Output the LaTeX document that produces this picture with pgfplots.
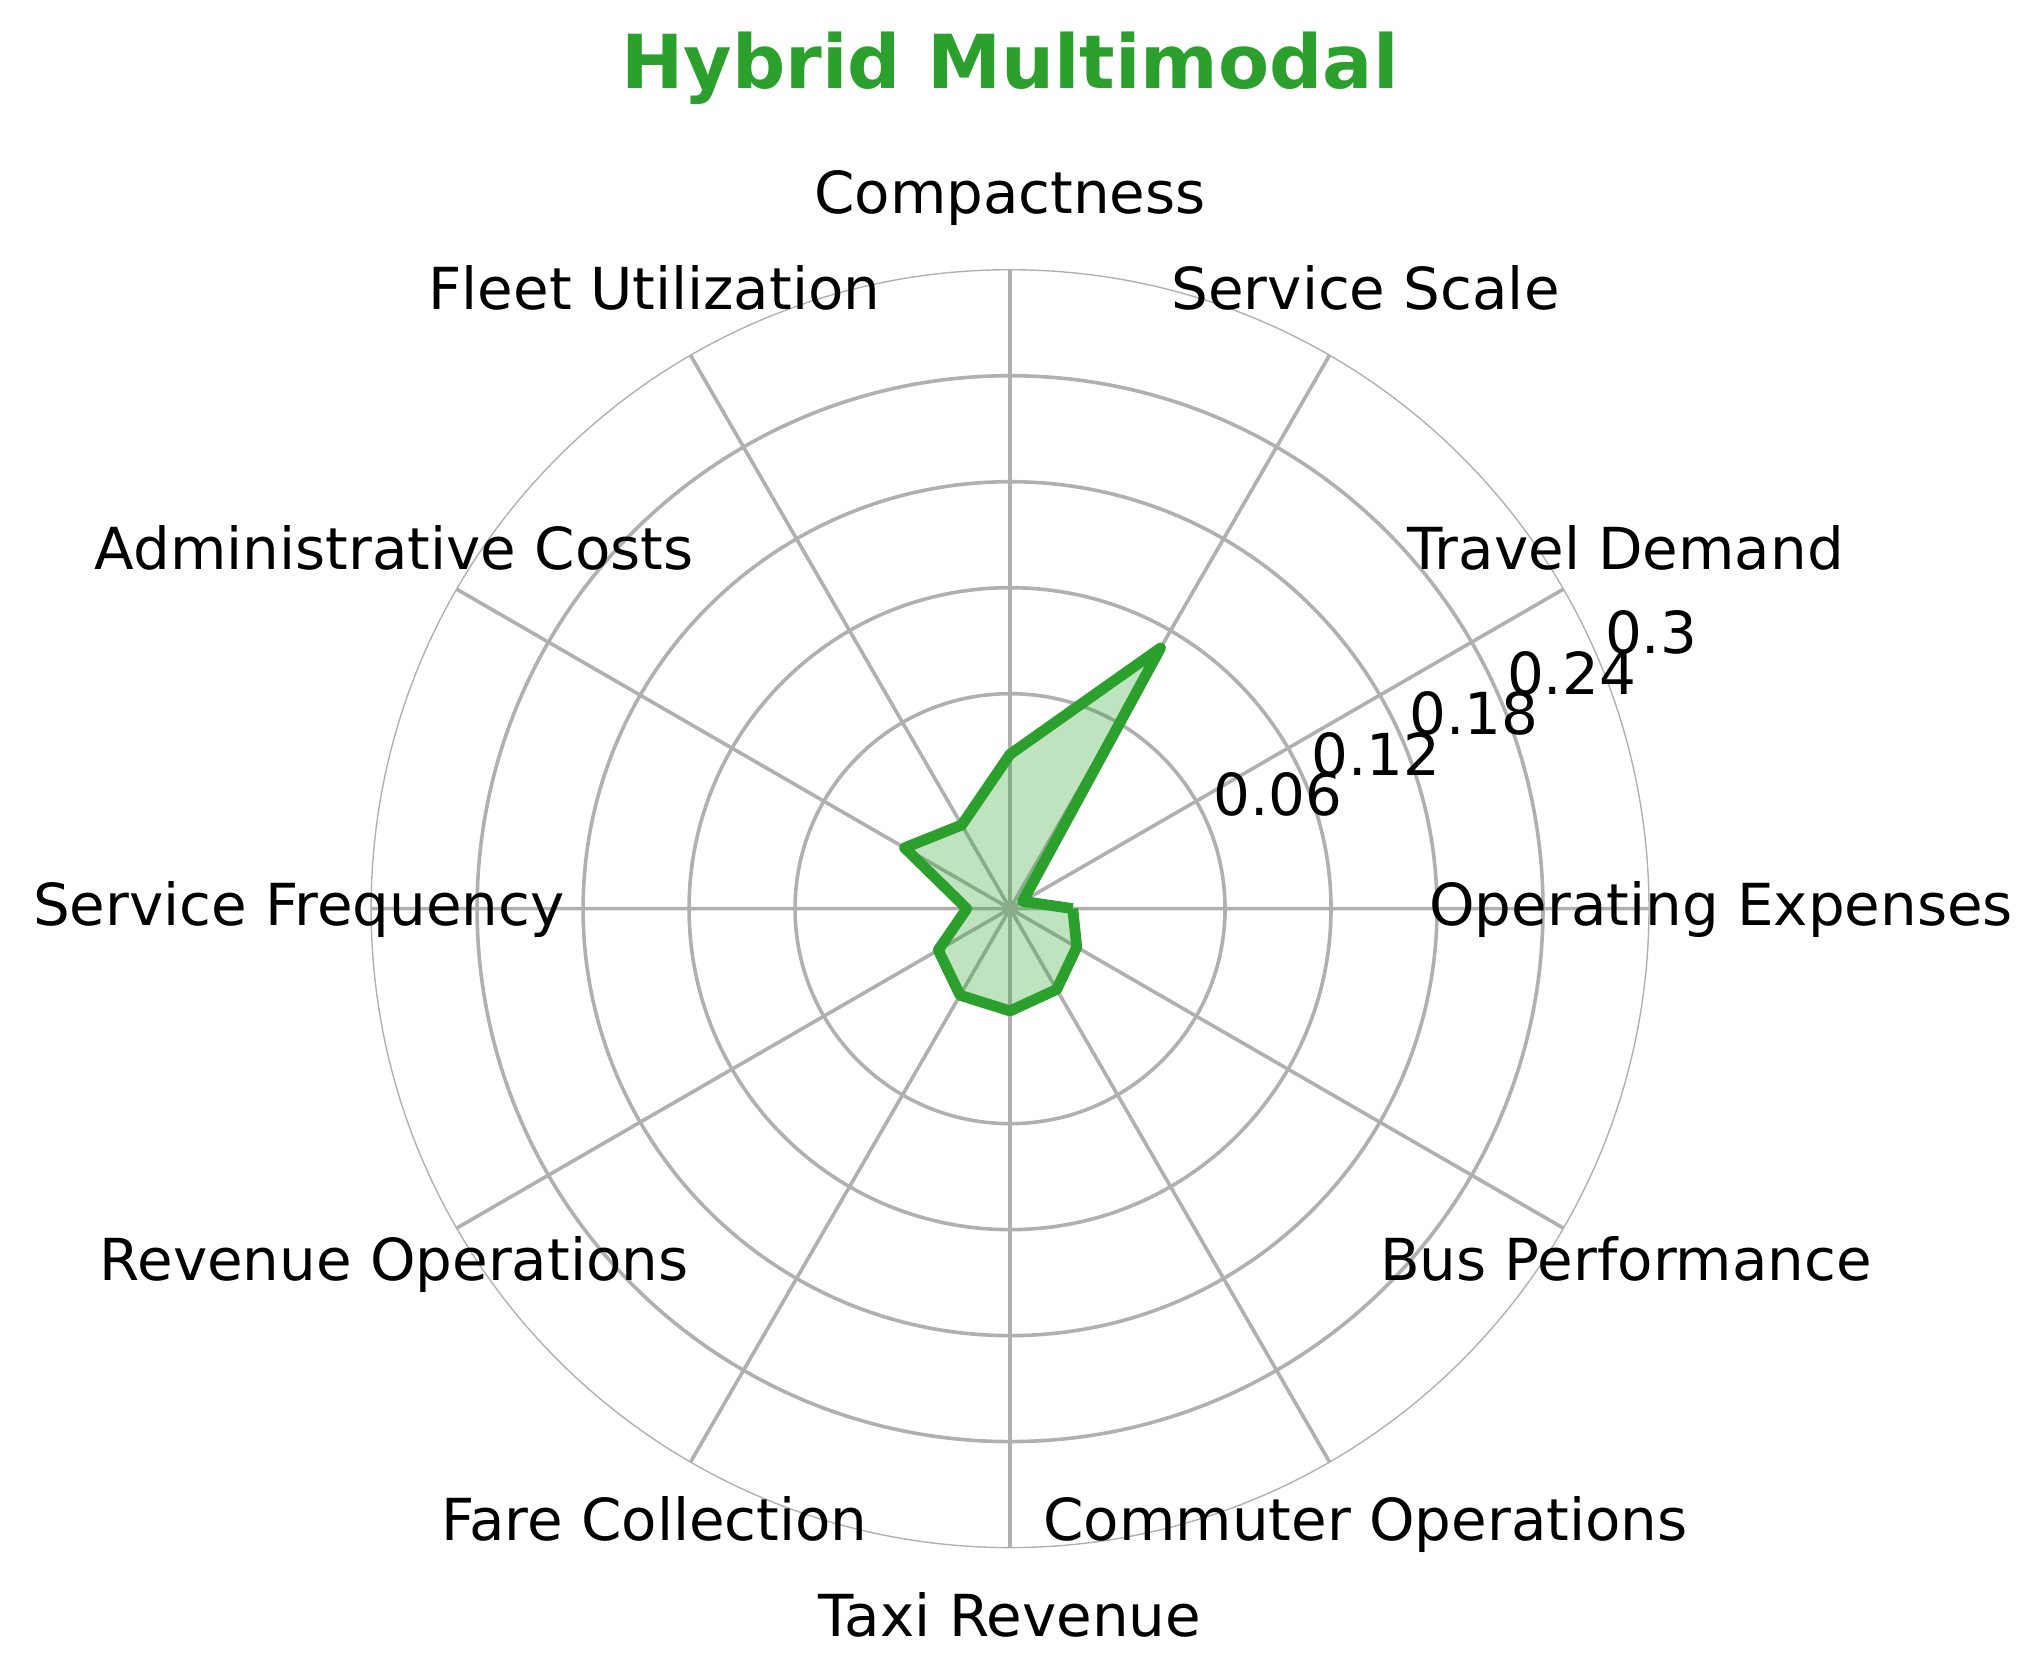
\documentclass[border=0pt]{standalone}
\usepackage{fontspec}
\setmainfont{DejaVu Sans}
\usepackage{pgfplots}
\usepgfplotslibrary{polar}
\usepackage{pgfplotstable}
\pgfplotsset{compat=1.18}
\definecolor{mplgreen}{HTML}{2CA02C}
\definecolor{gridgray}{HTML}{B0B0B0}
\newcommand{\lblfont}{\fontsize{20.84bp}{25bp}\selectfont}

% value of each category (radial axis runs from -0.0617 at the centre to 0.3 at the rim)
\pgfplotstableread{
angle value
0   -0.0262
30  -0.0534
60   0.1087
90   0.0257
120 -0.0070
150  0.0072
180 -0.0372
210 -0.0148
240 -0.0051
270 -0.0038
300 -0.0089
330 -0.0181
360 -0.0262
}\radardata

\begin{document}
\begin{tikzpicture}
\begin{polaraxis}[
  scale only axis,
  width=460bp, height=460bp,
  ymin=0, ymax=0.3617,
  xtick={0,30,...,330},
  ytick={0.1217,0.1817,0.2417,0.3017},
  xticklabels={}, yticklabels={},
  major tick length=0pt,
  grid=major,
  major grid style={draw=gridgray, line width=1.3bp},
  axis line style={draw=gridgray, line width=0.5bp},
  clip=false,
]
\coordinate (C) at (axis cs:0,0);
\addplot[draw=mplgreen, line width=3.9bp, line join=round,
  fill=mplgreen, fill opacity=0.3, draw opacity=1]
  table[x=angle, y expr=\thisrow{value}+0.0617] {\radardata};

% category labels
\foreach \a/\t in {0/Operating Expenses, 30/Travel Demand, 60/Service Scale,
  90/Compactness, 120/Fleet Utilization, 150/Administrative Costs,
  180/Service Frequency, 210/Revenue Operations, 240/Fare Collection,
  270/Taxi Revenue, 300/Commuter Operations, 330/Bus Performance}{
  \edef\tmp{\noexpand\node[anchor=center, inner sep=0pt, font=\noexpand\lblfont,
    text height=0.76em, text depth=0.24em, yshift=-3.3bp]
    at (axis cs:\a,0.4026) {\t};}
  \tmp
}
% radial tick labels
\foreach \r/\t in {0.1217/0.06, 0.1817/0.12, 0.2417/0.18, 0.3017/0.24, 0.3617/0.3}{
  \edef\tmp{\noexpand\node[anchor=base west, inner sep=0pt, font=\noexpand\lblfont,
    xshift=1.5bp, yshift=3.8bp]
    at (axis cs:22.5,\r) {\t};}
  \tmp
}
\end{polaraxis}
\node[anchor=base, inner sep=0pt, text=mplgreen,
  font=\fontsize{26.8bp}{32bp}\selectfont\bfseries]
  at ([yshift=295.2bp]C) {Hybrid Multimodal};
\path ([shift={(-363.6bp,-277.3bp)}]C) rectangle ([shift={(372.2bp,327.1bp)}]C);
\end{tikzpicture}
\end{document}
